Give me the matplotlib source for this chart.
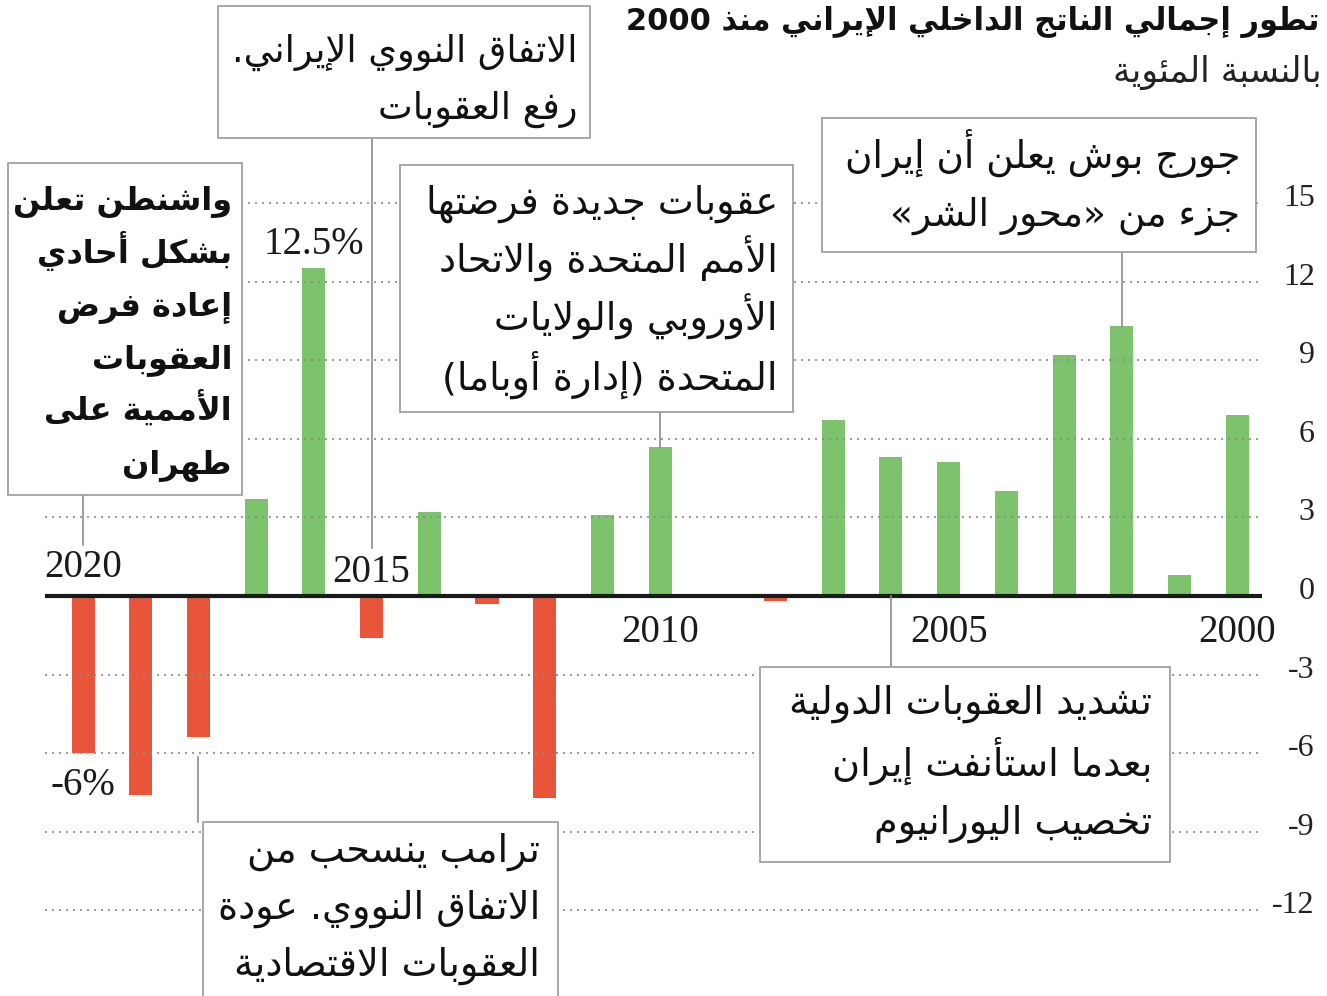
import matplotlib
matplotlib.use('Agg')
import matplotlib.pyplot as plt
from matplotlib.patches import Rectangle
from matplotlib.lines import Line2D
import matplotlib.transforms as mtransforms

# ---------------- data ----------------
years = list(range(2020, 1999, -1))
growth = [-6.0, -7.6, -5.4, 3.7, 12.5, -1.6, 3.2, -0.3, -7.7, 3.1, 5.7,
          0.0, -0.2, 6.7, 5.3, 5.1, 4.0, 9.2, 10.3, 0.8, 6.9]
ytick_values = [-12, -9, -6, -3, 0, 3, 6, 9, 12, 15]
ytick_labels = ['-12', '-9', '-6', '-3', '0', '3', '6', '9', '12', '15']
year_labels = [2020, 2015, 2010, 2005, 2000]
title = 'تطور إجمالي الناتج الداخلي الإيراني منذ 2000'
subtitle = 'بالنسبة المئوية'
note_washington = ['واشنطن تعلن', 'بشكل أحادي', 'إعادة فرض', 'العقوبات', 'الأممية على', 'طهران']
note_deal = ['الاتفاق النووي الإيراني.', 'رفع العقوبات']
note_new = ['عقوبات جديدة فرضتها', 'الأمم المتحدة والاتحاد', 'الأوروبي والولايات', 'المتحدة (إدارة أوباما)']
note_bush = ['جورج بوش يعلن أن إيران', 'جزء من «محور الشر»']
note_tight = ['تشديد العقوبات الدولية', 'بعدما استأنفت إيران', 'تخصيب اليورانيوم']
note_trump = ['ترامب ينسحب من', 'الاتفاق النووي. عودة', 'العقوبات الاقتصادية']

# ---------------- minimal Arabic shaping + bidi ----------------
FORMS = {
    '\u0621': (0xFE80, 1), '\u0622': (0xFE81, 2), '\u0623': (0xFE83, 2),
    '\u0624': (0xFE85, 2), '\u0625': (0xFE87, 2), '\u0626': (0xFE89, 4),
    '\u0627': (0xFE8D, 2), '\u0628': (0xFE8F, 4), '\u0629': (0xFE93, 2),
    '\u062A': (0xFE95, 4), '\u062B': (0xFE99, 4), '\u062C': (0xFE9D, 4),
    '\u062D': (0xFEA1, 4), '\u062E': (0xFEA5, 4), '\u062F': (0xFEA9, 2),
    '\u0630': (0xFEAB, 2), '\u0631': (0xFEAD, 2), '\u0632': (0xFEAF, 2),
    '\u0633': (0xFEB1, 4), '\u0634': (0xFEB5, 4), '\u0635': (0xFEB9, 4),
    '\u0636': (0xFEBD, 4), '\u0637': (0xFEC1, 4), '\u0638': (0xFEC5, 4),
    '\u0639': (0xFEC9, 4), '\u063A': (0xFECD, 4), '\u0641': (0xFED1, 4),
    '\u0642': (0xFED5, 4), '\u0643': (0xFED9, 4), '\u0644': (0xFEDD, 4),
    '\u0645': (0xFEE1, 4), '\u0646': (0xFEE5, 4), '\u0647': (0xFEE9, 4),
    '\u0648': (0xFEED, 2), '\u0649': (0xFEEF, 2), '\u064A': (0xFEF1, 4),
}
LAM_ALEF = {'\u0622': 0xFEF5, '\u0623': 0xFEF7, '\u0625': 0xFEF9, '\u0627': 0xFEFB}
MIRROR = {'(': ')', ')': '(', '«': '»', '»': '«'}


def shape(s):
    items = []
    i = 0
    while i < len(s):
        c = s[i]
        if c == '\u0644' and i + 1 < len(s) and s[i + 1] in LAM_ALEF:
            items.append(('LA', s[i + 1]))
            i += 2
        else:
            items.append(('C', c))
            i += 1

    def joins_forward(it):
        return it is not None and it[0] == 'C' and it[1] in FORMS and FORMS[it[1]][1] == 4

    def joins_backward(it):
        if it is None:
            return False
        if it[0] == 'LA':
            return True
        return it[1] in FORMS and FORMS[it[1]][1] != 1

    out = []
    for k, it in enumerate(items):
        prev = items[k - 1] if k > 0 else None
        nxt = items[k + 1] if k + 1 < len(items) else None
        if it[0] == 'LA':
            base = LAM_ALEF[it[1]]
            out.append(chr(base + 1 if joins_forward(prev) else base))
            continue
        c = it[1]
        if c not in FORMS:
            out.append(c)
            continue
        base, nf = FORMS[c]
        lp = joins_backward(it) and joins_forward(prev)
        ln = nf == 4 and joins_backward(nxt)
        if lp and ln:
            out.append(chr(base + 3))
        elif lp:
            out.append(chr(base + 1))
        elif ln:
            out.append(chr(base + 2))
        else:
            out.append(chr(base))
    return ''.join(out)


def is_ltr(ch):
    return ch.isascii() and (ch.isdigit() or ch.isalpha())


def ar(line):
    sh = shape(line)
    runs = []
    i, n = 0, len(sh)
    while i < n:
        j = i
        if is_ltr(sh[i]):
            while j < n and (is_ltr(sh[j]) or (sh[j] in '.,%' and j + 1 < n and sh[j + 1].isdigit())):
                j += 1
            runs.append(('L', sh[i:j]))
        else:
            while j < n and not is_ltr(sh[j]):
                j += 1
            runs.append(('R', sh[i:j]))
        i = j
    out = []
    for kind, txt in reversed(runs):
        if kind == 'L':
            out.append(txt)
        else:
            out.append(''.join(MIRROR.get(ch, ch) for ch in reversed(txt)))
    return ''.join(out)


# ---------------- figure ----------------
W, H = 1327, 996
fig = plt.figure(figsize=(W / 100, H / 100), dpi=100)
fig.patch.set_facecolor('white')

# axes geometry (pixels): x 45..1262, y-range (-13..16)
zero_px, unit_px = 596.0, 26.2
ylo, yhi = -13, 16
top_px = zero_px - yhi * unit_px
bot_px = zero_px - ylo * unit_px
ax = fig.add_axes([45 / W, 1 - bot_px / H, (1262 - 45) / W, (bot_px - top_px) / H])
ax.set_xlim(2020.66, 1999.57)
ax.set_ylim(ylo, yhi)

GREEN = '#7dc36c'
RED = '#e8553b'
colors = [GREEN if v >= 0 else RED for v in growth]
ax.bar(years, growth, width=0.4, color=colors, zorder=1)
ax.axhline(0, color='#1a1a1a', lw=3, zorder=3)

ax.set_yticks(ytick_values)
ax.set_yticklabels(ytick_labels)
ax.yaxis.tick_right()
ax.tick_params(axis='y', length=0, pad=38, labelsize=23, labelcolor='#222222')
up = mtransforms.ScaledTranslation(0, 8 / 100, fig.dpi_scale_trans)
for t in ax.yaxis.get_major_ticks():
    lab = t.label2
    lab.set_fontfamily('Liberation Serif')
    lab.set_horizontalalignment('right')
    lab.set_transform(lab.get_transform() + up)
ax.set_xticks([])
for sp in ax.spines.values():
    sp.set_visible(False)
ax.set_axisbelow(False)
ax.yaxis.grid(True, linestyle=(0, (1.2, 3)), color='#8a8a8a', lw=1.2, zorder=2)
ax.set_facecolor('none')

SERIF = 'Liberation Serif'
for yr in year_labels:
    v = growth[years.index(yr)]
    if v < 0:
        base = 0.72 if yr == 2020 else 0.53
        ax.text(yr, base, str(yr), ha='center', va='baseline', fontsize=28, family=SERIF, color='#1a1a1a')
    else:
        ax.text(yr, -1.76, str(yr), ha='center', va='baseline', fontsize=28, family=SERIF, color='#1a1a1a')

i16 = years.index(2016)
ax.text(2016, growth[i16] + 0.55, '12.5%', ha='center', va='baseline', fontsize=28, family=SERIF, color='#1a1a1a')
i20 = years.index(2020)
ax.text(2020, growth[i20] - 1.6, '-6%', ha='center', va='baseline', fontsize=28, family=SERIF, color='#1a1a1a')

# ---------------- annotations ----------------
ARF = ['DejaVu Sans']
BOX_EC = '#a0a0a0'
LINE_C = '#8c8c8c'


def fx(x):
    return x / W


def fy(y):
    return 1 - y / H


def box(x0, y0, x1, y1, lines, right, baselines, size=27.5, weight='normal'):
    fig.add_artist(Rectangle((fx(x0), fy(y1)), fx(x1) - fx(x0), fy(y0) - fy(y1),
                             transform=fig.transFigure, facecolor='white',
                             edgecolor=BOX_EC, lw=1.3, zorder=5))
    for t, b in zip(lines, baselines):
        fig.text(fx(right), fy(b), ar(t), ha='right', va='baseline', fontsize=size,
                 family=ARF, weight=weight, color='#111111', zorder=6)


blend = mtransforms.blended_transform_factory(ax.transData, fig.transFigure)


def connector(year, y0_px, y1_px=None, val=None):
    if val is not None:
        ytop = ax.transData.transform((year, val))[1] / (H)
        ys = [fy(y0_px), ytop]
    else:
        ys = [fy(y0_px), fy(y1_px)]
    fig.add_artist(Line2D([year, year], ys, transform=blend, color=LINE_C, lw=1.2, zorder=4))


connector(2020, 495, 545)
box(8, 163, 242, 495, note_washington, 232, [210, 263, 316, 368, 421, 474], size=23, weight='bold')

connector(2015, 138, 548)
box(218, 6, 590, 138, note_deal, 578, [62, 119], size=26.5)

connector(2010, 412, val=5.7)
box(400, 165, 793, 412, note_new, 778, [214, 273, 331, 390])

connector(2002, 252, val=10.3)
box(822, 118, 1256, 252, note_bush, 1240, [168, 226], size=27)

connector(2006, 667, val=0)
box(760, 667, 1170, 862, note_tight, 1152, [714, 776, 834])

connector(2018, 757, 822)
box(203, 822, 558, 1010, note_trump, 540, [862, 919, 976])

# ---------------- titles ----------------
fig.text(fx(1320), fy(30), ar(title), ha='right', va='baseline', fontsize=22,
         family=ARF, weight='bold', color='#111111')
fig.text(fx(1322), fy(82), ar(subtitle), ha='right', va='baseline', fontsize=25,
         family=ARF, color='#222222')

fig.savefig('out.png', dpi=100, facecolor='white')
